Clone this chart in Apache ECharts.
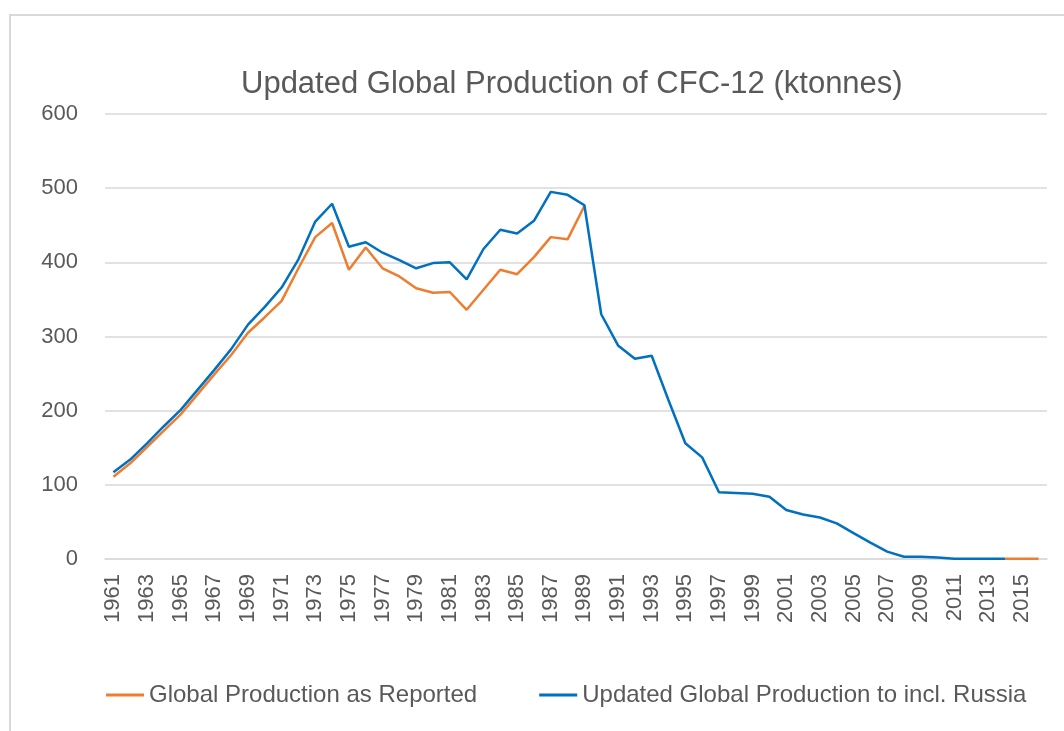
<!DOCTYPE html>
<html>
<head>
<meta charset="utf-8">
<script src="https://cdn.jsdelivr.net/npm/echarts@6/dist/echarts.min.js"></script>
<style>
  html, body { margin: 0; padding: 0; background: #fff; overflow: hidden; }
  #frame { position: absolute; left: 9px; top: 14px; width: 1100px; height: 800px; border-left: 2px solid #d9d9d9; border-top: 2px solid #d9d9d9; }
  #main { position: absolute; left: 0; top: 0; width: 1064px; height: 731px; }
</style>
</head>
<body>
<div id="frame"></div>
<div id="main"></div>
<script>
  // years 1961..2016
  var years = [];
  for (var y = 1961; y <= 2016; y++) years.push(String(y));

  // ktonnes
  var reported = [
    111, 129, 151, 173, 195, 222, 249, 275, 305, 326,   // 1961-1970
    348, 392, 434, 453, 390, 420, 392, 381, 365, 359,   // 1971-1980
    360, 336, 363, 390, 384, 407, 434, 431, 476,        // 1981-1989
    null, null, null, null, null, null, null, null, null, null, null, // 1990-2000
    null, null, null, null, null, null, null, null, null, null, null, null, null, // 2001-2013
    0.5, 0.5, 0.5                                       // 2014-2016
  ];
  var updated = [
    117, 134, 156, 179, 201, 228, 255, 283, 316, 340,   // 1961-1970
    366, 404, 455, 479, 421, 427, 413, 403, 392, 399,   // 1971-1980
    400, 377, 418, 444, 439, 456, 495, 491, 477, 330,   // 1981-1990
    288, 270, 274, 214, 156, 137, 90, 89, 88, 84,       // 1991-2000
    66, 60, 56, 48, 35, 22, 10, 3, 3, 2,                // 2001-2010
    0.5, 0.5, 0.5, 0.5                                  // 2011-2014
  ];
  var yTicks = [0, 100, 200, 300, 400, 500, 600];

  var textColor = '#595959';
  var chart = echarts.init(document.getElementById('main'));
  chart.setOption({
    animation: false,
    textStyle: { fontFamily: 'Liberation Sans' },
    title: {
      text: 'Updated Global Production of CFC-12 (ktonnes)',
      left: 236,
      top: 64,
      textStyle: { color: textColor, fontSize: 31, fontWeight: 'normal', fontFamily: 'Liberation Sans' }
    },
    legend: {
      left: 101,
      top: 678,
      itemWidth: 38,
      itemHeight: 3,
      itemGap: 62,
      icon: 'rect',
      textStyle: { color: textColor, fontSize: 24 },
      data: ['Global Production as Reported', 'Updated Global Production to incl. Russia']
    },
    grid: { left: 105, right: 17, top: 114, bottom: 172 },
    xAxis: {
      type: 'category',
      data: years,
      boundaryGap: true,
      axisLine: { lineStyle: { color: '#d9d9d9', width: 1.5 } },
      axisTick: { show: false },
      axisLabel: { rotate: 90, interval: 1, color: textColor, fontSize: 22, margin: 15 }
    },
    yAxis: {
      type: 'value',
      min: yTicks[0],
      max: yTicks[yTicks.length - 1],
      interval: 100,
      axisLine: { show: false },
      axisTick: { show: false },
      axisLabel: { color: textColor, fontSize: 22, margin: 27 },
      splitLine: { lineStyle: { color: '#d9d9d9', width: 1.5 } }
    },
    series: [
      {
        name: 'Global Production as Reported',
        type: 'line',
        data: reported,
        symbol: 'none',
        color: '#ED7D31',
        lineStyle: { width: 2.5, color: '#ED7D31' }
      },
      {
        name: 'Updated Global Production to incl. Russia',
        type: 'line',
        data: updated,
        symbol: 'none',
        color: '#0070C0',
        lineStyle: { width: 2.5, color: '#0070C0' }
      }
    ]
  });
</script>
</body>
</html>
